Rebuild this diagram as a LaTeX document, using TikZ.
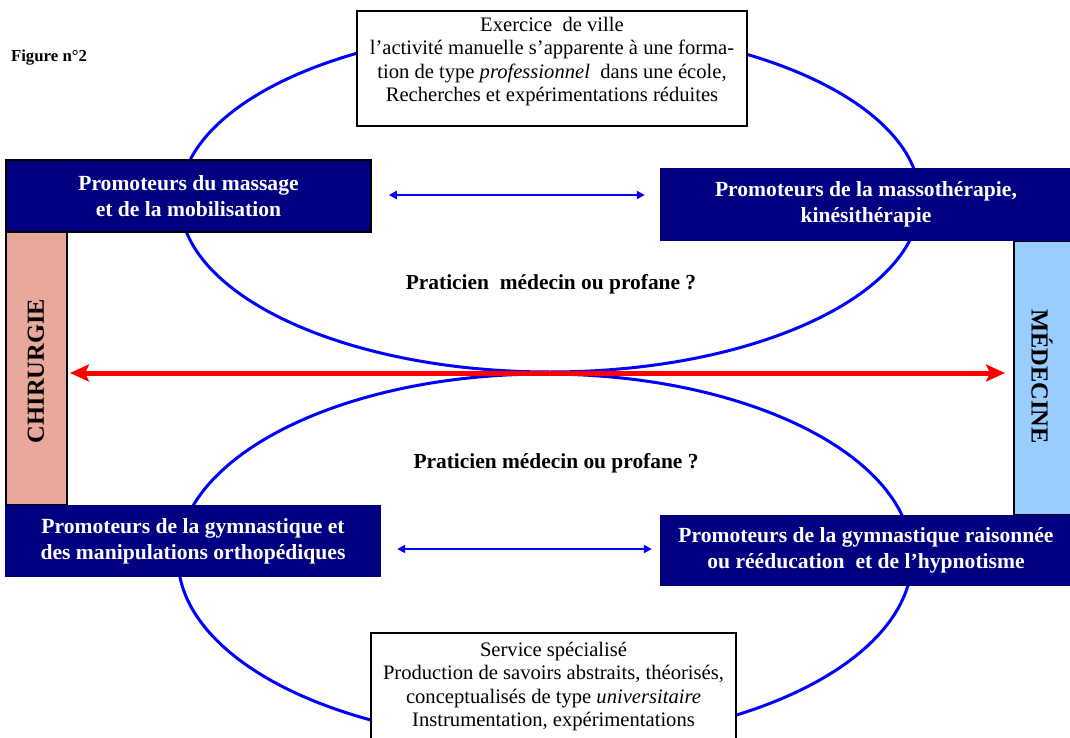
\documentclass[tikz,border=0pt]{standalone}
\usepackage{fontspec}
\setmainfont{Liberation Serif}
\usetikzlibrary{arrows.meta}
\definecolor{navyfill}{HTML}{000080}
\definecolor{chirfill}{HTML}{E8A89C}
\definecolor{medfill}{HTML}{99CCFF}

\begin{document}
\begin{tikzpicture}[x=1pt,y=-1pt,
  framebox/.style={draw=black, line width=2pt, fill=white, inner sep=0pt},
  boxtext/.style={inner sep=0pt, align=center, font=\fontsize{20.6}{23.5}\selectfont},
  promo/.style={fill=navyfill, text=white, inner sep=0pt, align=center,
    font=\bfseries\fontsize{21.6}{26}\selectfont},
  sidebox/.style={draw=black, line width=2pt, inner sep=0pt},
  sidetext/.style={inner sep=0pt, font=\bfseries\fontsize{24.5}{26}\selectfont},
  ell/.style={draw=blue, line width=3pt},
  link/.style={draw=blue, line width=2pt,
    {Triangle[length=8pt,width=8pt]}-{Triangle[length=8pt,width=8pt]}},
  axisarrow/.style={draw=red, line width=5pt,
    {Stealth[length=19pt,width=17pt,inset=4pt]}-{Stealth[length=19pt,width=17pt,inset=4pt]}},
  question/.style={inner sep=0pt, font=\bfseries\fontsize{21.4}{26}\selectfont}]

\useasboundingbox (0,0) rectangle (1070,738);
\clip (0,0) rectangle (1070,738);

% the two loops
\draw[ell] (550,200) ellipse [x radius=370pt, y radius=172pt];
\draw[ell] (545,558) ellipse [x radius=367pt, y radius=184pt];

% title
\node[inner sep=0pt, font=\bfseries\fontsize{16.8}{20}\selectfont] (title) at (49,58) {Figure n°2};

% framed text boxes
\node[framebox, minimum width=390pt, minimum height=115pt] (top) at (552,68.5) {};
\node[boxtext] (toptext) at (552,61.5) {Exercice\ \ de ville\\
  l’activité manuelle s’apparente à une forma-\\
  tion de type \textit{professionnel}\ \ dans une école,\\
  Recherches et expérimentations réduites};

\node[framebox, minimum width=365pt, minimum height=117pt] (bottom) at (553.5,691.5) {};
\node[boxtext] (bottomtext) at (553.5,686.5) {Service spécialisé\\
  Production de savoirs abstraits, théorisés,\\
  conceptualisés de type \textit{universitaire}\\
  Instrumentation, expérimentations};

% side columns
\node[sidebox, fill=chirfill, minimum width=61pt, minimum height=273pt] (chir) at (36.5,368.5) {};
\node[sidetext, rotate=90] (chirtext) at (36,371) {CHIRURGIE};
\node[sidebox, fill=medfill, minimum width=60pt, minimum height=274pt] (med) at (1044,378) {};
\node[sidetext, rotate=-90] (medtext) at (1042,376.5) {MÉDECINE};

% promoter boxes
\node[promo, draw=black, line width=1.5pt, minimum width=365pt, minimum height=72pt] (tl) at (188.5,196)
  {Promoteurs du massage\\et de la mobilisation};
\node[promo, minimum width=412pt, minimum height=73pt] (tr) at (866,204.5)
  {Promoteurs de la massothérapie,\\kinésithérapie};
\node[promo, minimum width=376pt, minimum height=72pt] (bl) at (193,541)
  {Promoteurs de la gymnastique et\\des manipulations orthopédiques};
\node[promo, minimum width=412pt, minimum height=71pt] (br) at (866,550.5)
  {Promoteurs de la gymnastique raisonnée\\ou rééducation\ \ et de l’hypnotisme};

% questions
\node[question] (q1) at (551,284) {Praticien\ \ médecin ou profane ?};
\node[question] (q2) at (556,463) {Praticien médecin ou profane ?};

% connectors
\coordinate (axis) at (550,373);
\draw[axisarrow, shorten <=2pt, shorten >=8pt] (chir.east |- axis) -- (med.west |- axis);

\coordinate (linktop) at (516,195);
\draw[link, shorten <=17pt, shorten >=15pt] (tl.east |- linktop) -- (tr.west |- linktop);

\coordinate (linkbottom) at (520,549);
\draw[link, shorten <=16pt, shorten >=8pt] (bl.east |- linkbottom) -- (br.west |- linkbottom);
\end{tikzpicture}
\end{document}
